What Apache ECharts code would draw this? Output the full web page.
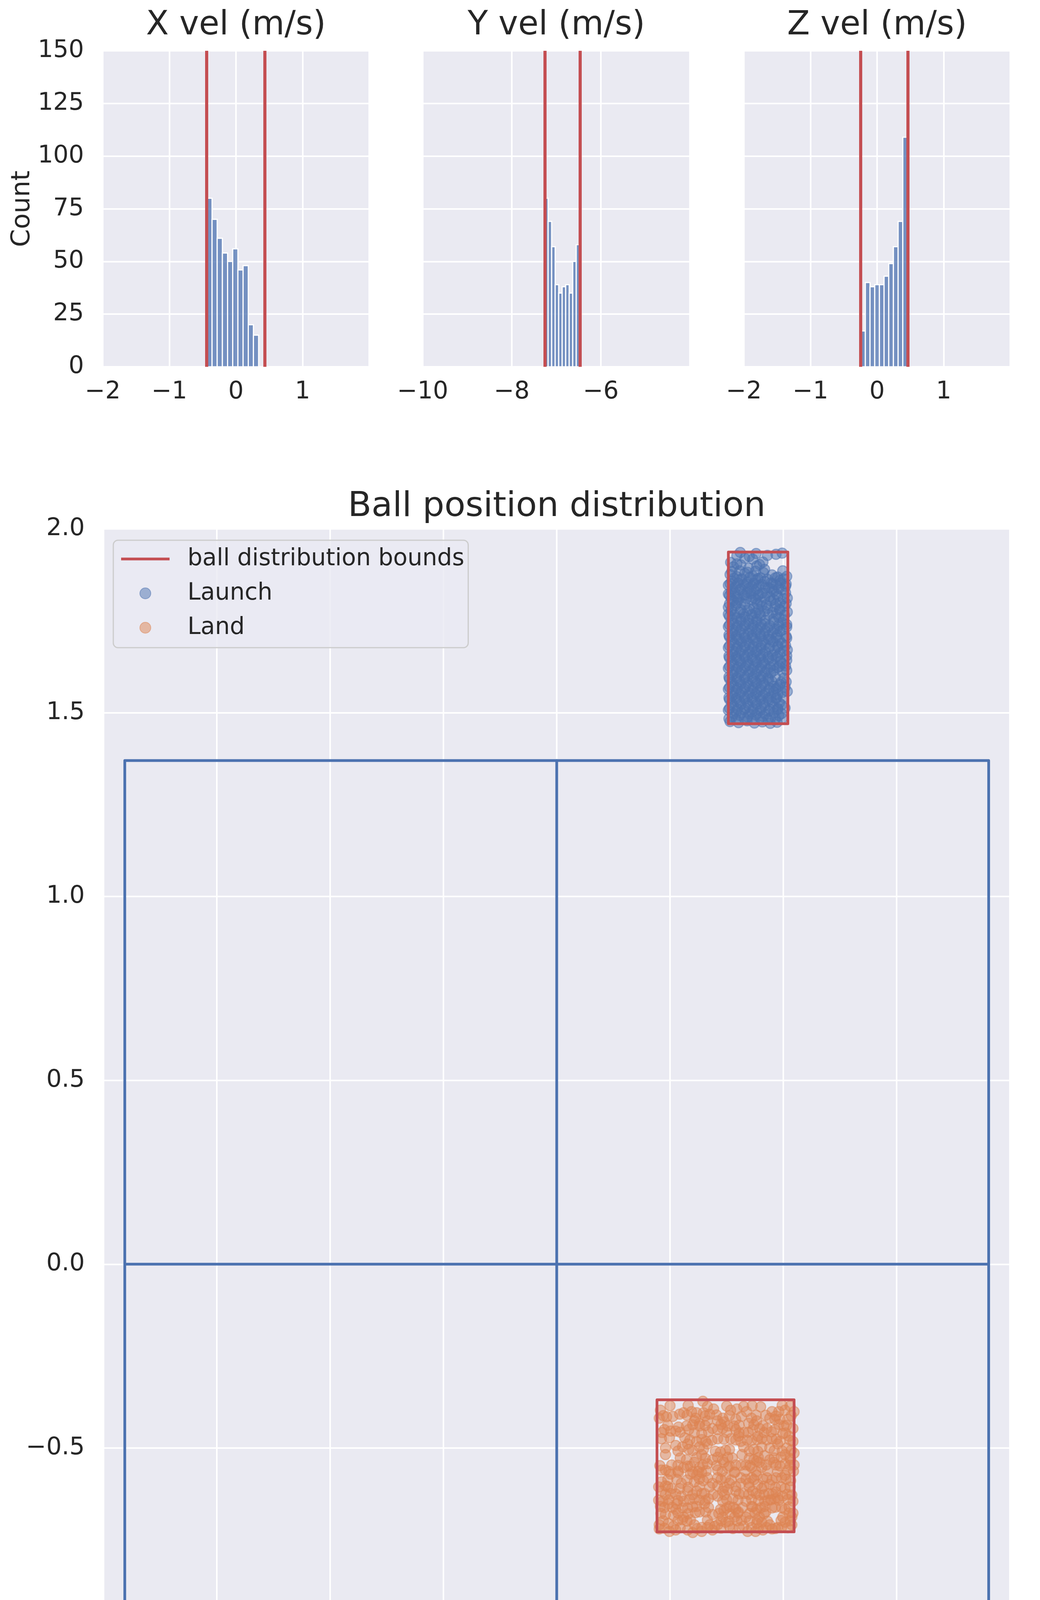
<!DOCTYPE html>
<html>
<head>
<meta charset="utf-8">
<script src="https://cdn.jsdelivr.net/npm/echarts@6/dist/echarts.min.js"></script>
<style>
html, body { margin: 0; padding: 0; background: #ffffff; }
#chart { width: 2662px; height: 4775px; }
</style>
</head>
<body>
<div id="chart"></div>
<script>
// histogram bins (edges) and counts
var xvelEdges = [-0.437, -0.359, -0.282, -0.204, -0.126, -0.049, 0.029, 0.107, 0.185, 0.262, 0.340];
var xvelCounts = [80, 70, 61, 54, 50, 56, 46, 48, 20, 15];
var xvelBounds = [-0.44, 0.434];

var yvelEdges = [-7.263, -7.184, -7.105, -7.026, -6.947, -6.869, -6.790, -6.711, -6.632, -6.553, -6.474];
var yvelCounts = [80, 69, 57, 39, 35, 38, 39, 35, 50, 58];
var yvelBounds = [-7.263, -6.474];

var zvelEdges = [-0.246, -0.176, -0.106, -0.035, 0.035, 0.105, 0.175, 0.245, 0.316, 0.386, 0.456];
var zvelCounts = [17, 40, 38, 39, 39, 43, 49, 57, 69, 109];
var zvelBounds = [-0.246, 0.456];

// table outline (m)
var tableOutline = [[-0.7625, -1.37], [0.7625, -1.37], [0.7625, 1.37], [-0.7625, 1.37], [-0.7625, -1.37]];
var tableCenterV = [[0, -1.37], [0, 1.37]];
var tableCenterH = [[-0.7625, 0], [0.7625, 0]];

// red distribution bounds
var launchBox = [[0.303, 1.470], [0.408, 1.470], [0.408, 1.937], [0.303, 1.937], [0.303, 1.470]];
var landBox = [[0.177, -0.728], [0.419, -0.728], [0.419, -0.369], [0.177, -0.369], [0.177, -0.728]];

// ball positions at launch
var launchPoints = [
  [.324,1.936],[.352,1.933],[.387,1.931],[.398,1.934],
  [.307,1.909],[.332,1.920],[.346,1.918],[.364,1.910],
  [.312,1.897],[.325,1.902],[.339,1.893],[.353,1.899],[.367,1.890],[.399,1.886],
  [.306,1.876],[.318,1.870],[.332,1.879],[.346,1.872],[.360,1.867],[.380,1.875],[.390,1.869],[.406,1.871],
  [.309,1.858],[.323,1.862],[.337,1.855],[.351,1.861],[.367,1.857],[.378,1.853],[.394,1.860],
  [.303,1.847],[.316,1.842],[.330,1.849],[.344,1.843],[.357,1.846],[.374,1.840],[.387,1.848],[.404,1.844],
  [.308,1.829],[.322,1.834],[.336,1.827],[.349,1.832],[.363,1.826],[.383,1.830],[.397,1.835],
  [.305,1.819],[.318,1.814],[.332,1.820],[.347,1.813],[.355,1.818],[.376,1.815],[.390,1.817],[.407,1.812],
  [.312,1.805],[.325,1.800],[.344,1.806],[.360,1.801],[.378,1.804],[.394,1.799],
  [.303,1.787],[.316,1.792],[.348,1.785],[.362,1.791],[.385,1.788],[.402,1.790],
  [.308,1.777],[.323,1.772],[.337,1.778],[.351,1.771],[.367,1.776],[.381,1.773],[.394,1.779],[.407,1.774],
  [.305,1.762],[.318,1.758],[.332,1.761],[.346,1.757],[.360,1.763],[.392,1.759],
  [.312,1.744],[.325,1.749],[.339,1.743],[.353,1.748],[.367,1.742],[.383,1.747],[.399,1.745],
  [.303,1.734],[.317,1.730],[.331,1.735],[.345,1.729],[.359,1.733],[.372,1.731],[.389,1.728],[.406,1.733],
  [.310,1.716],[.323,1.720],[.338,1.715],[.352,1.719],[.366,1.714],[.381,1.718],[.394,1.721],
  [.305,1.706],[.318,1.701],[.332,1.705],[.346,1.702],[.360,1.707],[.374,1.700],[.387,1.704],[.406,1.703],
  [.313,1.688],[.326,1.692],[.340,1.687],[.354,1.691],[.368,1.686],[.382,1.693],[.397,1.689],
  [.303,1.677],[.317,1.673],[.331,1.678],[.345,1.672],[.360,1.676],[.374,1.674],[.390,1.679],[.407,1.671],
  [.310,1.659],[.323,1.663],[.337,1.658],[.351,1.664],[.364,1.660],[.381,1.657],[.394,1.662],
  [.305,1.649],[.318,1.645],[.332,1.650],[.346,1.644],[.360,1.648],[.374,1.646],[.387,1.651],[.406,1.643],
  [.312,1.631],[.325,1.635],[.339,1.630],[.353,1.636],[.367,1.632],[.383,1.629],[.398,1.634],
  [.303,1.621],[.317,1.617],[.331,1.622],[.345,1.616],[.359,1.620],[.372,1.618],[.390,1.623],[.406,1.615],
  [.310,1.603],[.323,1.607],[.337,1.602],[.351,1.606],[.364,1.601],[.378,1.608],
  [.305,1.592],[.318,1.588],[.332,1.593],[.346,1.587],[.360,1.591],[.374,1.589],[.401,1.594],
  [.312,1.574],[.325,1.578],[.339,1.573],[.353,1.579],[.367,1.575],[.383,1.572],[.394,1.577],
  [.303,1.564],[.317,1.560],[.331,1.565],[.345,1.559],[.359,1.563],[.374,1.561],[.387,1.566],[.407,1.558],
  [.310,1.546],[.323,1.550],[.337,1.545],[.351,1.551],[.364,1.547],[.378,1.544],[.390,1.549],
  [.305,1.536],[.318,1.532],[.332,1.537],[.346,1.531],[.360,1.535],[.374,1.533],[.387,1.538],
  [.312,1.518],[.325,1.522],[.339,1.517],[.353,1.523],[.367,1.519],[.383,1.516],[.397,1.521],
  [.303,1.507],[.317,1.503],[.331,1.508],[.345,1.502],[.359,1.506],[.374,1.504],[.390,1.509],
  [.310,1.489],[.323,1.493],[.337,1.488],[.351,1.494],[.364,1.490],[.378,1.487],[.392,1.492],
  [.306,1.476],[.321,1.473],[.336,1.478],[.349,1.472],[.363,1.475],[.377,1.471],[.389,1.474],
  [.318,1.927],[.340,1.925],[.372,1.928],
  [.318,1.905],[.358,1.903],
  [.309,1.884],[.323,1.886],[.337,1.882],[.351,1.885],[.365,1.881],
  [.313,1.866],[.327,1.864],[.341,1.868],[.355,1.865],[.372,1.863],[.386,1.867],[.400,1.864],
  [.306,1.851],[.320,1.853],[.334,1.850],[.348,1.852],[.362,1.849],[.381,1.851],[.395,1.853],[.405,1.850],
  [.311,1.838],[.325,1.836],[.339,1.839],[.353,1.837],[.368,1.840],[.380,1.836],[.392,1.838],
  [.303,1.823],[.315,1.825],[.329,1.822],[.343,1.824],[.357,1.821],[.371,1.825],[.388,1.823],[.404,1.826],
  [.308,1.810],[.321,1.808],[.335,1.811],[.351,1.809],[.367,1.812],[.383,1.808],[.400,1.810],
  [.305,1.796],[.318,1.798],[.332,1.795],[.354,1.797],[.370,1.794],[.387,1.796],[.405,1.797],
  [.309,1.782],[.325,1.780],[.340,1.783],[.356,1.781],[.372,1.784],[.393,1.782],
  [.303,1.768],[.314,1.766],[.330,1.769],[.344,1.767],[.358,1.770],[.374,1.766],[.388,1.768],[.402,1.765],
  [.309,1.753],[.325,1.755],[.339,1.752],[.353,1.754],[.368,1.751],[.383,1.755],[.401,1.753],
  [.305,1.739],[.319,1.737],[.333,1.740],[.347,1.738],[.361,1.741],[.376,1.737],[.392,1.739],[.406,1.740],
  [.312,1.725],[.326,1.727],[.340,1.724],[.354,1.726],[.368,1.723],[.384,1.727],[.399,1.725],
  [.304,1.711],[.317,1.709],[.331,1.712],[.345,1.710],[.359,1.713],[.374,1.709],[.389,1.711],[.405,1.708],
  [.309,1.697],[.322,1.699],[.336,1.696],[.350,1.698],[.364,1.695],[.378,1.699],[.393,1.697],
  [.305,1.682],[.319,1.680],[.333,1.683],[.347,1.681],[.361,1.684],[.376,1.680],[.391,1.682],[.404,1.683],
  [.312,1.668],[.326,1.670],[.340,1.667],[.354,1.669],[.368,1.666],[.385,1.670],[.400,1.668],
  [.304,1.654],[.317,1.652],[.331,1.655],[.345,1.653],[.359,1.656],[.373,1.652],[.390,1.654],[.406,1.655],
  [.309,1.640],[.323,1.642],[.337,1.639],[.351,1.641],[.365,1.638],[.380,1.642],[.395,1.640],
  [.305,1.626],[.320,1.624],[.334,1.627],[.348,1.625],[.362,1.628],[.377,1.624],[.393,1.626],[.404,1.627],
  [.312,1.612],[.326,1.614],[.340,1.611],[.354,1.613],[.368,1.610],[.383,1.614],[.398,1.612],
  [.304,1.597],[.318,1.595],[.332,1.598],[.346,1.596],[.360,1.599],[.373,1.595],[.386,1.597],
  [.309,1.583],[.323,1.585],[.337,1.582],[.351,1.584],[.365,1.581],[.380,1.585],[.396,1.583],[.405,1.584],
  [.305,1.569],[.319,1.567],[.333,1.570],[.347,1.568],[.361,1.571],[.376,1.567],[.390,1.569],[.403,1.570],
  [.312,1.555],[.326,1.557],[.340,1.554],[.354,1.556],[.368,1.553],[.383,1.557],[.398,1.555],
  [.304,1.541],[.317,1.539],[.331,1.542],[.345,1.540],[.359,1.543],[.373,1.539],[.388,1.541],[.400,1.542],
  [.309,1.527],[.323,1.529],[.337,1.526],[.351,1.528],[.365,1.525],[.380,1.529],[.393,1.527],
  [.305,1.512],[.319,1.510],[.333,1.513],[.347,1.511],[.361,1.514],[.376,1.510],[.390,1.512],[.403,1.513],
  [.312,1.498],[.326,1.500],[.340,1.497],[.354,1.499],[.368,1.496],[.383,1.500],[.397,1.498],
  [.304,1.484],[.317,1.482],[.331,1.485],[.345,1.483],[.359,1.486],[.373,1.482],[.386,1.484],[.398,1.485]
];

// ball positions at landing
var landPoints = [
  [.258,-.373],[.183,-.397],[.181,-.419],[.194,-.415],[.217,-.408],[.224,-.404],[.238,-.401],[.247,-.404],
  [.259,-.404],[.277,-.394],[.270,-.408],[.293,-.419],[.307,-.397],[.318,-.394],[.330,-.387],[.335,-.401],
  [.344,-.419],[.369,-.411],[.380,-.401],[.392,-.401],[.403,-.397],[.419,-.401],[.408,-.422],[.394,-.422],
  [.376,-.419],[.243,-.426],[.252,-.433],[.284,-.426],[.316,-.422],[.339,-.433],
  [.190,-.450],[.201,-.454],[.210,-.454],[.229,-.440],[.233,-.450],[.252,-.440],[.256,-.461],[.275,-.447],
  [.293,-.447],[.302,-.440],[.316,-.450],[.330,-.458],[.346,-.450],[.358,-.447],[.371,-.447],[.385,-.450],
  [.399,-.461],[.417,-.447],[.410,-.468],[.185,-.475],[.199,-.472],[.226,-.472],[.247,-.482],[.263,-.482],
  [.284,-.475],[.307,-.475],[.325,-.482],[.344,-.479],[.362,-.475],[.380,-.475],[.394,-.482],
  [.192,-.500],[.192,-.518],[.210,-.493],[.222,-.497],[.233,-.504],[.252,-.497],[.266,-.489],[.256,-.518],
  [.289,-.511],[.305,-.504],[.330,-.497],[.348,-.504],[.362,-.497],[.376,-.500],[.390,-.489],[.406,-.500],
  [.419,-.514],[.403,-.518],[.367,-.521],
  [.229,-.532],[.243,-.539],[.266,-.543],[.275,-.532],[.293,-.532],[.302,-.525],[.316,-.546],[.334,-.546],
  [.348,-.532],[.358,-.539],[.376,-.532],[.387,-.546],[.403,-.543],[.419,-.546],[.185,-.560],[.192,-.560],
  [.224,-.553],[.252,-.553],[.284,-.560],[.302,-.553],[.344,-.553],[.362,-.553],[.408,-.560],
  [.201,-.571],[.215,-.567],[.236,-.571],[.247,-.574],[.256,-.567],[.266,-.581],[.275,-.596],[.298,-.581],
  [.314,-.567],[.325,-.581],[.339,-.596],[.353,-.574],[.371,-.581],[.387,-.581],[.397,-.581],[.413,-.589],
  [.185,-.592],[.192,-.603],[.203,-.610],[.220,-.596],[.243,-.592],[.259,-.589],[.284,-.603],[.305,-.596],
  [.325,-.596],[.355,-.599],[.376,-.599],
  [.185,-.617],[.201,-.624],[.220,-.631],[.231,-.617],[.247,-.617],[.261,-.624],[.268,-.638],[.284,-.631],
  [.302,-.613],[.316,-.617],[.330,-.624],[.346,-.617],[.358,-.628],[.374,-.624],[.387,-.620],[.399,-.631],
  [.415,-.628],[.187,-.645],[.224,-.645],[.243,-.638],[.293,-.645],[.311,-.638],[.334,-.645],[.367,-.645],
  [.385,-.638],[.417,-.645],
  [.183,-.659],[.197,-.652],[.210,-.667],[.231,-.663],[.247,-.659],[.263,-.674],[.275,-.681],[.289,-.667],
  [.305,-.659],[.321,-.674],[.334,-.688],[.353,-.667],[.367,-.659],[.380,-.663],[.403,-.667],[.417,-.677],
  [.192,-.681],[.206,-.684],[.224,-.688],[.252,-.674],[.293,-.688],[.314,-.688],[.358,-.688],[.399,-.688],
  [.181,-.709],[.197,-.705],[.206,-.713],[.222,-.695],[.243,-.709],[.256,-.716],[.270,-.709],[.284,-.709],
  [.298,-.702],[.318,-.698],[.330,-.713],[.344,-.716],[.362,-.702],[.376,-.709],[.390,-.716],[.403,-.702],
  [.415,-.709],[.181,-.720],[.199,-.727],[.210,-.723],[.231,-.723],[.240,-.730],[.256,-.727],[.275,-.723],
  [.337,-.727],[.351,-.727],[.364,-.723],[.380,-.720],[.397,-.716],
  [.245,-.419],[.296,-.429],[.313,-.440],[.385,-.422],[.401,-.440],[.231,-.489],[.259,-.504],[.295,-.539],
  [.353,-.536],[.383,-.539],[.250,-.564],[.344,-.581],[.373,-.642],[.390,-.635],[.295,-.670],[.316,-.667],
  [.369,-.674],[.279,-.713],[.215,-.443],[.284,-.450],[.321,-.468],[.355,-.468],[.203,-.546],[.236,-.550],
  [.327,-.518],[.413,-.532],[.217,-.610],[.293,-.617],[.362,-.610],[.403,-.610],[.236,-.695],[.305,-.713],
  [.353,-.705],[.415,-.688],[.266,-.426],[.353,-.426],[.417,-.482],[.284,-.581],[.403,-.574],[.212,-.652],
  [.261,-.652],[.344,-.659],
  [.200,-.385],[.232,-.384],[.266,-.387],[.300,-.386],[.345,-.385],[.360,-.388],[.398,-.384],[.412,-.386],
  [.188,-.412],[.205,-.414],[.230,-.411],[.262,-.413],[.282,-.410],[.305,-.412],[.326,-.414],[.352,-.411],
  [.387,-.413],[.414,-.412],
  [.196,-.438],[.240,-.437],[.262,-.439],[.290,-.436],[.322,-.438],[.348,-.437],[.364,-.439],[.392,-.436],
  [.406,-.438],
  [.186,-.458],[.218,-.457],[.243,-.459],[.268,-.456],[.300,-.458],[.322,-.459],[.338,-.457],[.366,-.458],
  [.379,-.456],[.404,-.459],
  [.235,-.478],[.256,-.477],[.274,-.479],[.295,-.476],[.316,-.478],[.336,-.479],[.354,-.477],[.371,-.478],
  [.388,-.476],[.412,-.479],
  [.214,-.508],[.240,-.507],[.280,-.509],[.298,-.506],[.340,-.508],[.355,-.509],[.384,-.507],[.398,-.508],
  [.414,-.506],
  [.218,-.527],[.247,-.526],[.262,-.528],[.284,-.525],[.310,-.527],[.340,-.528],[.356,-.526],[.384,-.527],
  [.396,-.525],[.412,-.528],
  [.182,-.548],[.214,-.547],[.231,-.549],[.258,-.546],[.282,-.548],[.305,-.549],[.325,-.547],[.341,-.548],
  [.370,-.546],[.394,-.549],[.412,-.547],
  [.198,-.564],[.214,-.563],[.240,-.565],[.264,-.562],[.292,-.564],[.314,-.565],[.333,-.563],[.352,-.564],
  [.372,-.562],[.390,-.565],[.418,-.563],
  [.196,-.586],[.212,-.585],[.230,-.587],[.252,-.584],[.290,-.586],[.308,-.587],[.334,-.585],[.348,-.586],
  [.364,-.584],[.380,-.587],[.405,-.585],
  [.180,-.606],[.196,-.605],[.232,-.607],[.252,-.604],[.270,-.606],[.296,-.607],[.316,-.605],[.340,-.606],
  [.366,-.604],[.386,-.607],[.396,-.605],[.412,-.606],
  [.192,-.626],[.210,-.625],[.240,-.627],[.256,-.624],[.276,-.626],[.296,-.627],[.322,-.625],[.339,-.626],
  [.352,-.624],[.366,-.627],[.381,-.625],[.407,-.626],
  [.180,-.642],[.198,-.641],[.214,-.643],[.234,-.640],[.252,-.642],[.262,-.643],[.300,-.641],[.320,-.642],
  [.344,-.640],[.356,-.643],[.378,-.641],[.392,-.642],[.408,-.640],
  [.190,-.662],[.204,-.661],[.222,-.663],[.240,-.660],[.268,-.662],[.300,-.663],[.312,-.661],[.328,-.662],
  [.346,-.660],[.360,-.663],[.386,-.661],[.397,-.662],[.410,-.660],
  [.184,-.678],[.214,-.677],[.232,-.679],[.245,-.676],[.286,-.678],[.306,-.679],[.320,-.677],[.340,-.678],
  [.350,-.676],[.366,-.679],[.410,-.677],
  [.188,-.698],[.214,-.697],[.230,-.699],[.266,-.696],[.290,-.698],[.304,-.699],[.326,-.697],[.340,-.698],
  [.354,-.696],[.372,-.699],[.396,-.697],[.412,-.698],
  [.190,-.718],[.218,-.717],[.248,-.719],[.266,-.716],[.290,-.718],[.311,-.719],[.322,-.717],[.356,-.718],
  [.370,-.716],[.386,-.719],[.408,-.717]
];

var BLUE = '#4c72b0';
var ORANGE = '#dd8452';
var RED = '#c44e52';
var TEXT = '#262626';
var FONT = 'DejaVu Sans';

function minus(s) { return String(s).replace('-', '\u2212'); }
function oneDec(v) { if (Math.abs(v) < 1e-9) v = 0; return minus(v.toFixed(1)); }

function histItem(params, api) {
  var p0 = api.coord([api.value(0), api.value(2)]);
  var p1 = api.coord([api.value(1), 0]);
  return {
    type: 'rect',
    shape: { x: p0[0], y: p0[1], width: p1[0] - p0[0], height: p1[1] - p0[1] },
    style: { fill: 'rgba(76,114,176,0.75)', stroke: '#ffffff', lineWidth: 3 }
  };
}

function histSeries(idx, edges, counts, bounds) {
  return {
    type: 'custom',
    xAxisIndex: idx, yAxisIndex: idx,
    renderItem: histItem,
    encode: { x: [0, 1], y: 2 },
    data: counts.map(function (c, i) { return [edges[i], edges[i + 1], c]; }),
    silent: true,
    z: 2,
    markLine: {
      silent: true,
      symbol: ['none', 'none'],
      label: { show: false },
      lineStyle: { color: RED, width: 8, type: 'solid', opacity: 1 },
      data: bounds.map(function (b) { return { xAxis: b }; })
    }
  };
}

function histX(idx, min, max, step) {
  return {
    gridIndex: idx, type: 'value', min: min, max: max, interval: step,
    axisLine: { show: false }, axisTick: { show: false },
    splitLine: { show: true, lineStyle: { color: '#ffffff', width: 4 } },
    axisLabel: { fontSize: 62, color: TEXT, fontFamily: FONT, margin: 34, showMaxLabel: false,
      formatter: function (v) { return minus(v); } }
  };
}

function histY(idx, showLabels) {
  var ax = {
    gridIndex: idx, type: 'value', min: 0, max: 150, interval: 25,
    axisLine: { show: false }, axisTick: { show: false },
    splitLine: { show: true, lineStyle: { color: '#ffffff', width: 4 } },
    axisLabel: { show: showLabels, fontSize: 62, color: TEXT, fontFamily: FONT, margin: 48 }
  };
  if (showLabels) {
    ax.name = 'Count';
    ax.nameLocation = 'middle';
    ax.nameRotate = 90;
    ax.nameGap = 172;
    ax.nameTextStyle = { fontSize: 66, color: TEXT, fontFamily: FONT };
  }
  return ax;
}

function lineSeries(name, pts, color, width, z) {
  return {
    type: 'line', name: name, xAxisIndex: 3, yAxisIndex: 3,
    data: pts, showSymbol: false, symbol: 'none', silent: true, z: z,
    itemStyle: { color: color },
    lineStyle: { color: color, width: width, cap: 'round', join: 'round' }
  };
}

function scatterSeries(name, pts, rgb) {
  return {
    type: 'scatter', name: name, xAxisIndex: 3, yAxisIndex: 3,
    data: pts, symbol: 'circle', symbolSize: 26, silent: true, z: 3,
    itemStyle: { color: 'rgba(' + rgb + ',0.5)', borderColor: 'rgba(' + rgb + ',0.5)', borderWidth: 3, opacity: 1 }
  };
}

var chart = echarts.init(document.getElementById('chart'), null, { renderer: 'canvas' });

var option = {
  animation: false,
  backgroundColor: '#ffffff',
  textStyle: { fontFamily: FONT },
  title: [
    { text: 'X vel (m/s)', left: 604, top: 23, textAlign: 'center', padding: 0,
      textStyle: { fontSize: 85, fontWeight: 'normal', color: TEXT, fontFamily: FONT } },
    { text: 'Y vel (m/s)', left: 1424, top: 23, textAlign: 'center', padding: 0,
      textStyle: { fontSize: 85, fontWeight: 'normal', color: TEXT, fontFamily: FONT } },
    { text: 'Z vel (m/s)', left: 2245, top: 23, textAlign: 'center', padding: 0,
      textStyle: { fontSize: 85, fontWeight: 'normal', color: TEXT, fontFamily: FONT } },
    { text: 'Ball position distribution', left: 1425, top: 1254, textAlign: 'center', padding: 0,
      textStyle: { fontSize: 88, fontWeight: 'normal', color: TEXT, fontFamily: FONT } }
  ],
  legend: {
    data: [
      { name: 'ball distribution bounds',
        icon: 'path://M0,0h0.05v0.05H0z M0,10.5h124v7H0z M123.95,27.95h0.05V28h-0.05z',
        itemStyle: { color: RED, borderWidth: 0 } },
      { name: 'Launch', icon: 'circle' },
      { name: 'Land', icon: 'circle' }
    ],
    orient: 'vertical',
    left: 290, top: 1383,
    padding: [18, 10, 21, 20],
    itemWidth: 124, itemHeight: 28, itemGap: 28,
    align: 'left',
    backgroundColor: 'rgba(234,234,242,0.8)',
    borderColor: '#cccccc', borderWidth: 3, borderRadius: 12,
    textStyle: { fontSize: 60, lineHeight: 60, color: TEXT, fontFamily: FONT, padding: [0, 0, 0, 41] },
    selectedMode: false,
    z: 10
  },
  grid: [
    { left: 263, top: 130, width: 682, height: 809, show: true, backgroundColor: '#eaeaf2', borderWidth: 0 },
    { left: 1082, top: 130, width: 684, height: 809, show: true, backgroundColor: '#eaeaf2', borderWidth: 0 },
    { left: 1904, top: 130, width: 682, height: 809, show: true, backgroundColor: '#eaeaf2', borderWidth: 0 },
    { left: 265, top: 1354, width: 2320, height: 3294, show: true, backgroundColor: '#eaeaf2', borderWidth: 0 }
  ],
  xAxis: [
    histX(0, -2, 2, 1),
    histX(1, -10, -4, 2),
    histX(2, -2, 2, 1),
    {
      gridIndex: 3, type: 'value', min: -0.8, max: 0.8, interval: 0.2,
      axisLine: { show: false }, axisTick: { show: false },
      splitLine: { show: true, lineStyle: { color: '#ffffff', width: 4 } },
      axisLabel: { fontSize: 62, color: TEXT, fontFamily: FONT, margin: 34, formatter: oneDec }
    }
  ],
  yAxis: [
    histY(0, true),
    histY(1, false),
    histY(2, false),
    {
      gridIndex: 3, type: 'value', min: -1.5, max: 2, interval: 0.5,
      axisLine: { show: false }, axisTick: { show: false },
      splitLine: { show: true, lineStyle: { color: '#ffffff', width: 4 } },
      axisLabel: { fontSize: 62, color: TEXT, fontFamily: FONT, margin: 48, formatter: oneDec }
    }
  ],
  series: [
    histSeries(0, xvelEdges, xvelCounts, xvelBounds),
    histSeries(1, yvelEdges, yvelCounts, yvelBounds),
    histSeries(2, zvelEdges, zvelCounts, zvelBounds),
    lineSeries('table', tableOutline, BLUE, 7, 2),
    lineSeries('table', tableCenterV, BLUE, 7, 2),
    lineSeries('table', tableCenterH, BLUE, 7, 2),
    scatterSeries('Launch', launchPoints, '76,114,176'),
    scatterSeries('Land', landPoints, '221,132,82'),
    lineSeries('ball distribution bounds', launchBox, RED, 7, 4),
    lineSeries('ball distribution bounds', landBox, RED, 7, 4)
  ]
};

chart.setOption(option);
</script>
</body>
</html>
